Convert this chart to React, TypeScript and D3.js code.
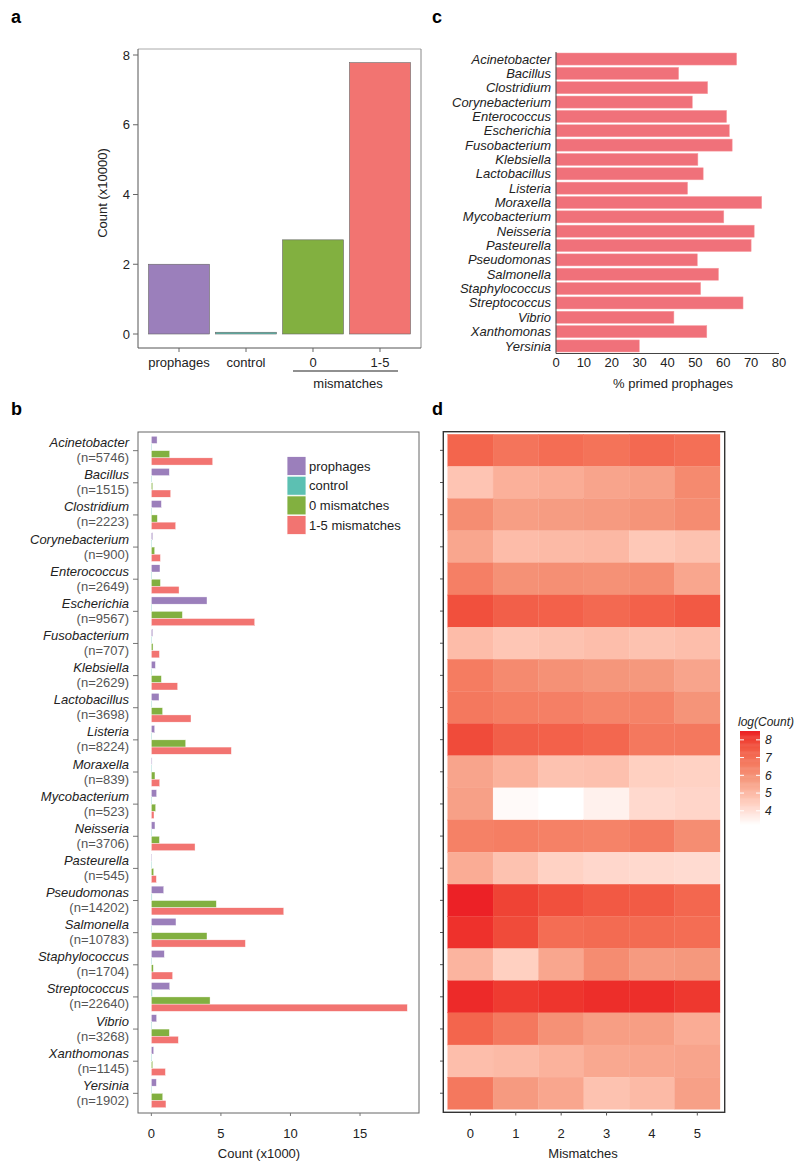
import React from "react";
import * as d3 from "d3";

// ---------- DATA ----------
const totalCats = ["prophages", "control", "0", "1-5"];
const totalCounts = [2.0, 0.05, 2.7, 7.78]; // x10000

const genera = [
  "Acinetobacter", "Bacillus", "Clostridium", "Corynebacterium", "Enterococcus",
  "Escherichia", "Fusobacterium", "Klebsiella", "Lactobacillus", "Listeria",
  "Moraxella", "Mycobacterium", "Neisseria", "Pasteurella", "Pseudomonas",
  "Salmonella", "Staphylococcus", "Streptococcus", "Vibrio", "Xanthomonas", "Yersinia",
];
const genusN = [5746, 1515, 2223, 900, 2649, 9567, 707, 2629, 3698, 8224, 839, 523, 3706, 545, 14202, 10783, 1704, 22640, 3268, 1145, 1902];

const primedPct = [64.8, 44.0, 54.4, 48.9, 61.2, 62.2, 63.2, 50.9, 52.8, 47.2, 73.8, 60.2, 71.1, 70.0, 50.7, 58.3, 51.9, 67.1, 42.3, 54.1, 29.9];

// counts x1000 per genus
const prophagesK = [0.41, 1.29, 0.72, 0.1, 0.62, 4.0, 0.1, 0.29, 0.55, 0.24, 0.05, 0.38, 0.26, 0.02, 0.89, 1.77, 0.93, 1.32, 0.38, 0.17, 0.36];
const controlK = [0.03, 0.01, 0.02, 0.01, 0.02, 0.04, 0.01, 0.02, 0.02, 0.03, 0.01, 0.01, 0.02, 0.01, 0.05, 0.04, 0.01, 0.06, 0.02, 0.01, 0.01];
const mm0K = [1.32, 0.1, 0.43, 0.24, 0.65, 2.23, 0.12, 0.72, 0.81, 2.47, 0.26, 0.31, 0.58, 0.17, 4.67, 4.0, 0.14, 4.22, 1.29, 0.1, 0.82];
const mm15K = [4.41, 1.39, 1.75, 0.65, 1.99, 7.43, 0.58, 1.89, 2.85, 5.75, 0.6, 0.19, 3.14, 0.36, 9.52, 6.76, 1.53, 18.4, 1.94, 1.01, 1.05];

const seriesNames = ["prophages", "control", "0 mismatches", "1-5 mismatches"];
const seriesColors = ["#9b7fbb", "#5cc0b2", "#82b040", "#f27471"];

const mismatchLevels = ["0", "1", "2", "3", "4", "5"];
// log(Count) per genus (rows) x mismatches (cols)
const logCount = [
  [7.2, 6.8, 7.0, 6.85, 7.1, 6.95],
  [4.7, 5.2, 5.3, 5.5, 5.6, 6.2],
  [6.1, 5.65, 5.7, 5.75, 5.9, 6.15],
  [5.45, 4.9, 4.95, 5.0, 4.6, 4.75],
  [6.5, 6.0, 6.05, 6.0, 6.1, 5.45],
  [7.7, 7.35, 7.3, 7.1, 7.3, 7.5],
  [4.9, 4.65, 4.75, 4.85, 4.75, 4.85],
  [6.6, 6.2, 6.0, 5.85, 5.8, 5.5],
  [6.7, 6.55, 6.5, 6.35, 6.4, 5.9],
  [7.8, 7.35, 7.3, 7.15, 6.7, 6.7],
  [5.5, 5.15, 4.75, 4.8, 4.4, 4.35],
  [5.6, 3.32, 3.2, 3.55, 4.15, 4.25],
  [6.45, 6.55, 6.45, 6.4, 6.65, 6.1],
  [5.3, 4.75, 4.35, 4.2, 4.15, 4.1],
  [8.45, 7.95, 7.7, 7.5, 7.45, 7.15],
  [8.25, 7.8, 7.0, 7.05, 7.05, 7.0],
  [5.1, 4.4, 5.45, 6.15, 5.75, 5.8],
  [8.35, 8.1, 8.2, 8.3, 8.3, 8.15],
  [7.2, 6.7, 6.0, 5.65, 5.65, 5.3],
  [4.85, 4.95, 5.15, 5.4, 5.45, 5.5],
  [6.7, 5.75, 5.45, 4.75, 4.95, 5.6],
];
const legendTicks = [4, 5, 6, 7, 8];
const colorStops = [3.2, 5.85, 8.5];
const colorRange = ["#ffffff", "#f5967b", "#ec1c24"];

const aTicks = [0, 2, 4, 6, 8];
const bTicks = [0, 5, 10, 15];
const cTicks = [0, 10, 20, 30, 40, 50, 60, 70, 80];

const FONT = "'Liberation Sans', Arial, Helvetica, sans-serif";
const TXT = "#222";

export default function App() {
  // ----- panel a -----
  const ax = d3.scaleBand<string>().domain(totalCats).range([138, 421]).paddingInner(0.09).paddingOuter(0.157);
  const ay = d3.scaleLinear().domain([0, 8]).range([334, 55]);
  const aColors = seriesColors;

  // ----- panel c -----
  const cy = d3.scaleBand<string>().domain(genera).range([52, 353]).paddingInner(0.16).paddingOuter(0.07);
  const cx = d3.scaleLinear().domain([0, 80]).range([556, 779]);

  // ----- panel b -----
  const by = d3.scaleBand<string>().domain(genera).range([434.6, 1109.4]);
  const bInner = d3.scaleBand<string>().domain(seriesNames).range([-14.4, 14.4]);
  const bx = d3.scaleLinear().domain([-0.96, 19.24]).range([138, 419]);
  const bSeries = [prophagesK, controlK, mm0K, mm15K];

  // ----- panel d -----
  const dx = d3.scaleBand<string>().domain(mismatchLevels).range([447.7, 720]);
  const dy = d3.scaleBand<string>().domain(genera).range([434.3, 1109.3]);
  const color = d3.scaleLinear<string>().domain(colorStops).range(colorRange).interpolate(d3.interpolateLab);
  const legY = d3.scaleLinear().domain([3.2, 8.5]).range([825, 731]);
  const legendSteps = d3.range(3.2, 8.5, 0.05);

  return (
    <svg width={800} height={1171} style={{ position: "absolute", left: 0, top: 0, background: "#fff" }} fontFamily={FONT}>
      <rect x={0} y={0} width={800} height={1171} fill="#fff" />
      {/* panel letters */}
      <text x={11} y={23} fontSize={18} fontWeight="bold" fill="#000">a</text>
      <text x={432} y={23} fontSize={18} fontWeight="bold" fill="#000">c</text>
      <text x={11} y={415} fontSize={18} fontWeight="bold" fill="#000">b</text>
      <text x={432} y={415} fontSize={18} fontWeight="bold" fill="#000">d</text>

      {/* ================= panel a ================= */}
      <g>
        <line x1={138} x2={421} y1={49} y2={49} stroke="#aaa" strokeWidth={1} />
        <line x1={421} x2={421} y1={49} y2={348} stroke="#888" strokeWidth={1} />
        <line x1={138} x2={138} y1={49} y2={348} stroke="#555" strokeWidth={1} />
        <line x1={138} x2={421} y1={348} y2={348} stroke="#555" strokeWidth={1} />
        {totalCats.map((c, i) => (
          <rect key={c} x={ax(c)!} width={ax.bandwidth()} y={ay(totalCounts[i])} height={ay(0) - ay(totalCounts[i])}
            fill={aColors[i]} stroke="#666" strokeWidth={0.6} />
        ))}
        {aTicks.map((t) => (
          <g key={t}>
            <line x1={133} x2={138} y1={ay(t)} y2={ay(t)} stroke="#666" />
            <text x={130} y={ay(t)} dy="0.35em" textAnchor="end" fontSize={13} fill={TXT}>{t}</text>
          </g>
        ))}
        {totalCats.map((c) => (
          <g key={c}>
            <line x1={ax(c)! + ax.bandwidth() / 2} x2={ax(c)! + ax.bandwidth() / 2} y1={348} y2={352} stroke="#666" />
            <text x={ax(c)! + ax.bandwidth() / 2} y={362} dy="0.35em" textAnchor="middle" fontSize={13} fill={TXT}>{c}</text>
          </g>
        ))}
        <line x1={293} x2={398} y1={371} y2={371} stroke="#222" strokeWidth={1.2} />
        <text x={348} y={383} dy="0.35em" textAnchor="middle" fontSize={13} fill={TXT}>mismatches</text>
        <text transform="translate(102,193) rotate(-90)" textAnchor="middle" dy="0.35em" fontSize={13} fill={TXT}>Count (x10000)</text>
      </g>

      {/* ================= panel c ================= */}
      <g>
        {genera.map((g, i) => (
          <g key={g}>
            <rect x={cx(0)} y={cy(g)!} width={cx(primedPct[i]) - cx(0)} height={cy.bandwidth()} fill="#f0717a" stroke="#f7a0a5" strokeWidth={0.5} />
            <text x={551} y={cy(g)! + cy.bandwidth() / 2} dy="0.35em" textAnchor="end" fontSize={13} fontStyle="italic" fill={TXT}>{g}</text>
          </g>
        ))}
        <line x1={556} x2={556} y1={52} y2={353.5} stroke="#444" strokeWidth={1} />
        <line x1={556} x2={779} y1={353.5} y2={353.5} stroke="#444" strokeWidth={1} />
        {cTicks.map((t) => (
          <text key={t} x={cx(t)} y={362} dy="0.35em" textAnchor="middle" fontSize={13} fill={TXT}>{t}</text>
        ))}
        <text x={673} y={383} dy="0.35em" textAnchor="middle" fontSize={13} fill={TXT}>% primed prophages</text>
      </g>

      {/* ================= panel b ================= */}
      <g>
        {genera.map((g, gi) => {
          const c = by(g)! + by.bandwidth() / 2;
          return (
            <g key={g}>
              {seriesNames.map((s, si) => (
                <rect key={s} x={bx(0)} y={c + bInner(s)!} width={Math.max(0.6, bx(bSeries[si][gi]) - bx(0))} height={bInner.bandwidth()}
                  fill={seriesColors[si]} stroke="#fff" strokeWidth={0.4} />
              ))}
              <line x1={133} x2={138} y1={c} y2={c} stroke="#777" />
              <text x={129} y={c - 8} dy="0.35em" textAnchor="end" fontSize={13} fontStyle="italic" fill={TXT}>{g}</text>
              <text x={129} y={c + 7} dy="0.35em" textAnchor="end" fontSize={13} fill="#555">{`(n=${genusN[gi]})`}</text>
            </g>
          );
        })}
        <rect x={138} y={432} width={281} height={681} fill="none" stroke="#666" strokeWidth={1} />
        {bTicks.map((t) => (
          <g key={t}>
            <line x1={bx(t)} x2={bx(t)} y1={1113} y2={1116} stroke="#777" />
            <text x={bx(t)} y={1133} dy="0.35em" textAnchor="middle" fontSize={13} fill={TXT}>{t}</text>
          </g>
        ))}
        <text x={259} y={1153} dy="0.35em" textAnchor="middle" fontSize={13} fill={TXT}>Count (x1000)</text>
        {/* legend */}
        {seriesNames.map((s, i) => (
          <g key={s}>
            <rect x={287} y={456.5 + i * 19.7} width={19} height={19} fill={seriesColors[i]} stroke="#fff" strokeWidth={0.8} />
            <text x={309} y={466 + i * 19.7} dy="0.35em" fontSize={13} fill={TXT}>{s}</text>
          </g>
        ))}
      </g>

      {/* ================= panel d ================= */}
      <g>
        {genera.map((g, gi) => (
          <g key={g}>
            {mismatchLevels.map((m, mi) => (
              <rect key={m} x={dx(m)!} y={dy(g)!} width={dx.bandwidth()} height={dy.bandwidth()} fill={color(logCount[gi][mi])}
                stroke={color(logCount[gi][mi])} strokeWidth={0.3} />
            ))}
            <line x1={440} x2={443.3} y1={dy(g)! + dy.bandwidth() / 2} y2={dy(g)! + dy.bandwidth() / 2} stroke="#555" />
          </g>
        ))}
        <rect x={443.3} y={431.7} width={281.4} height={680.6} fill="none" stroke="#333" strokeWidth={1.4} />
        {mismatchLevels.map((m) => (
          <g key={m}>
            <line x1={dx(m)! + dx.bandwidth() / 2} x2={dx(m)! + dx.bandwidth() / 2} y1={1112.3} y2={1115.5} stroke="#555" />
            <text x={dx(m)! + dx.bandwidth() / 2} y={1133} dy="0.35em" textAnchor="middle" fontSize={13} fill={TXT}>{m}</text>
          </g>
        ))}
        <text x={583} y={1153} dy="0.35em" textAnchor="middle" fontSize={13} fill={TXT}>Mismatches</text>

        {/* colour legend */}
        <text x={738} y={722} dy="0.35em" fontSize={12} fontStyle="italic" fill={TXT}>log(Count)</text>
        {legendSteps.map((v) => (
          <rect key={v} x={740} width={20} y={legY(v + 0.05)} height={legY(v) - legY(v + 0.05) + 0.5} fill={color(v)} />
        ))}
        {legendTicks.map((t) => (
          <g key={t}>
            <line x1={740} x2={744} y1={legY(t)} y2={legY(t)} stroke="#fff" strokeWidth={1} />
            <line x1={756} x2={760} y1={legY(t)} y2={legY(t)} stroke="#fff" strokeWidth={1} />
            <text x={765} y={legY(t)} dy="0.35em" fontSize={12} fontStyle="italic" fill={TXT}>{t}</text>
          </g>
        ))}
      </g>
    </svg>
  );
}
